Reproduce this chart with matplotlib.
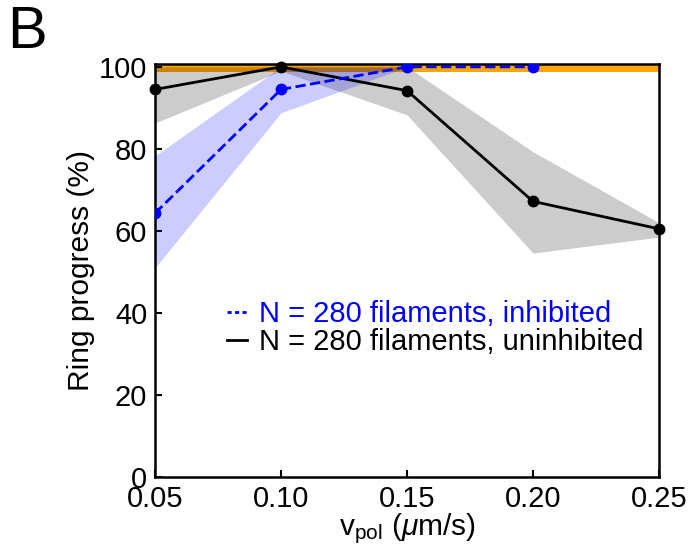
import matplotlib
matplotlib.use("Agg")
import matplotlib.pyplot as plt
import numpy as np

plt.rcParams['font.family'] = ['Liberation Sans', 'DejaVu Sans']
plt.rcParams['mathtext.fontset'] = 'custom'
plt.rcParams['mathtext.rm'] = 'Liberation Sans'
plt.rcParams['mathtext.it'] = 'Liberation Sans:italic'

v_pol = [0.05, 0.10, 0.15, 0.20, 0.25]

# uninhibited (black)
unin_mean = [94.5, 100.0, 94.2, 67.2, 60.5]
unin_low = [86.3, 99.0, 88.3, 54.6, 58.5]
unin_high = [100.0, 100.0, 100.0, 79.3, 62.0]

# inhibited (blue)
inh_x = [0.05, 0.10, 0.15, 0.20]
inh_mean = [64.3, 94.5, 100.0, 100.0]
inh_low = [51.0, 88.8, 100.0, 100.0]
inh_high = [78.3, 100.0, 100.0, 100.0]

xticks = [0.05, 0.10, 0.15, 0.20, 0.25]
xticklabels = ['0.05', '0.10', '0.15', '0.20', '0.25']
yticks = [0, 20, 40, 60, 80, 100]

fig = plt.figure(figsize=(6.88, 5.46), dpi=100)
ax = fig.add_axes([0.2253, 0.1264, 0.7326, 0.7564])

ax.axhspan(98.8, 101, color='#FFA500', zorder=1, lw=0)
ax.fill_between(v_pol, unin_low, unin_high, color='black', alpha=0.2, lw=0, zorder=2)
ax.fill_between(inh_x, inh_low, inh_high, color='blue', alpha=0.2, lw=0, zorder=2)

ax.plot(inh_x, inh_mean, '--o', color='blue', lw=2, ms=7.5, zorder=4,
        label='N = 280 filaments, inhibited')
ax.plot(v_pol, unin_mean, '-o', color='black', lw=2, ms=7.5, zorder=3,
        label='N = 280 filaments, uninhibited', clip_on=False)

ax.set_xlim(0.05, 0.25)
ax.set_ylim(0, 100.7)
ax.set_xticks(xticks)
ax.set_xticklabels(xticklabels)
ax.set_yticks(yticks)
ax.tick_params(direction='in', labelsize=21, width=1.5, length=5)
ax.tick_params(axis='y', pad=5.5)
ax.tick_params(axis='x', pad=6)
for s in ax.spines.values():
    s.set_linewidth(1.8)

ax.set_ylabel('Ring progress (%)', fontsize=21.5, labelpad=3)
ax.set_xlabel(r'v$_{\mathrm{pol}}$ ($\mathit{\mu}$m/s)', fontsize=21.5, labelpad=-1.5)

leg = ax.legend(loc='center left', bbox_to_anchor=(0.143, 0.36), frameon=False,
                fontsize=21, handlelength=0.7, handletextpad=0.4,
                labelspacing=0.0, borderaxespad=0, borderpad=0)
for h in leg.legend_handles:
    h.set_marker('')
    h.set_linewidth(2)
leg.legend_handles[0].set_dashes([1.5, 1.2])
for t, c in zip(leg.get_texts(), ['blue', 'black']):
    t.set_color(c)

fig.text(0.011, 0.99, 'B', fontsize=43, va='top', ha='left')

fig.savefig('out.png', dpi=100)
